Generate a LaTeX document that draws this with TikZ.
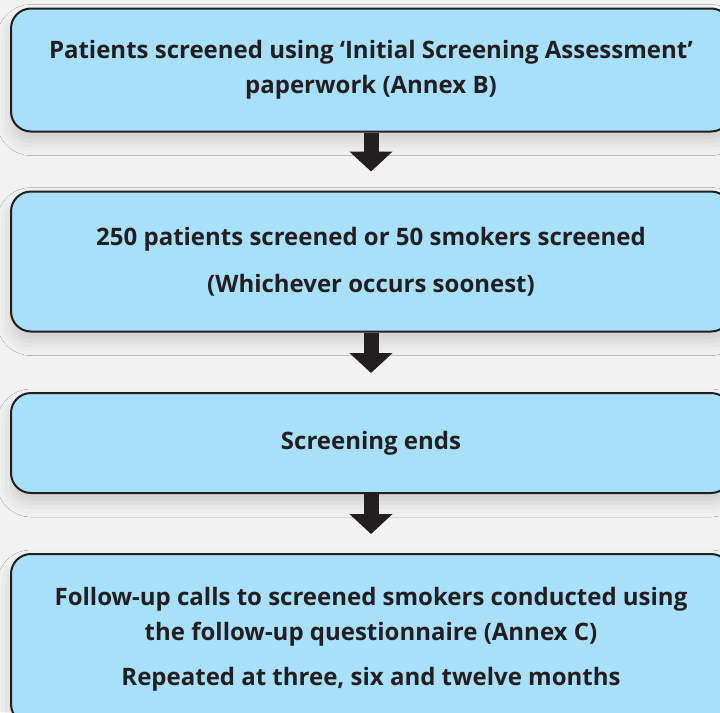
\documentclass[tikz,border=0pt]{standalone}
\usepackage{fontspec}
\setmainfont{Open Sans}
\usetikzlibrary{arrows.meta,shadows.blur}
\definecolor{boxblue}{HTML}{A8DFF9}
\definecolor{boxline}{HTML}{231F20}
\definecolor{bggray}{HTML}{F2F2F2}
\begin{document}
\begin{tikzpicture}[x=1pt,y=-1pt,
    stepbox/.style={draw=boxline,line width=2pt,fill=boxblue,rounded corners=20pt,
      minimum width=720pt,align=center,font=\fontsize{24}{35}\selectfont\bfseries,
      text=boxline,blur shadow={shadow xshift=0pt,shadow yshift=-10pt,shadow blur radius=14pt,shadow opacity=15}},
    flowarrow/.style={draw=boxline,line width=15pt,-{Triangle[width=42pt,length=20pt]},shorten >=19pt}]
  \fill[bggray] (0,0) rectangle (720,712);
  \useasboundingbox (0,0) rectangle (720,712);
  \node[stepbox,minimum height=123pt] (patients) at (371,70)
    {Patients screened using ‘Initial Screening Assessment’\\paperwork (Annex B)};
  \node[stepbox,minimum height=140pt] (screened) at (371,261.5)
    {250 patients screened or 50 smokers screened\\[12pt](Whichever occurs soonest)};
  \node[stepbox,minimum height=100pt] (ends) at (371,443) {Screening ends};
  \node[stepbox,minimum height=170pt] (followup) at (371,639)
    {Follow-up calls to screened smokers conducted using\\the follow-up questionnaire (Annex C)\\[10pt]Repeated at three, six and twelve months};
  \draw[flowarrow] (patients.south) -- (screened.north);
  \draw[flowarrow] (screened.south) -- (ends.north);
  \draw[flowarrow] (ends.south) -- (followup.north);
\end{tikzpicture}
\end{document}
